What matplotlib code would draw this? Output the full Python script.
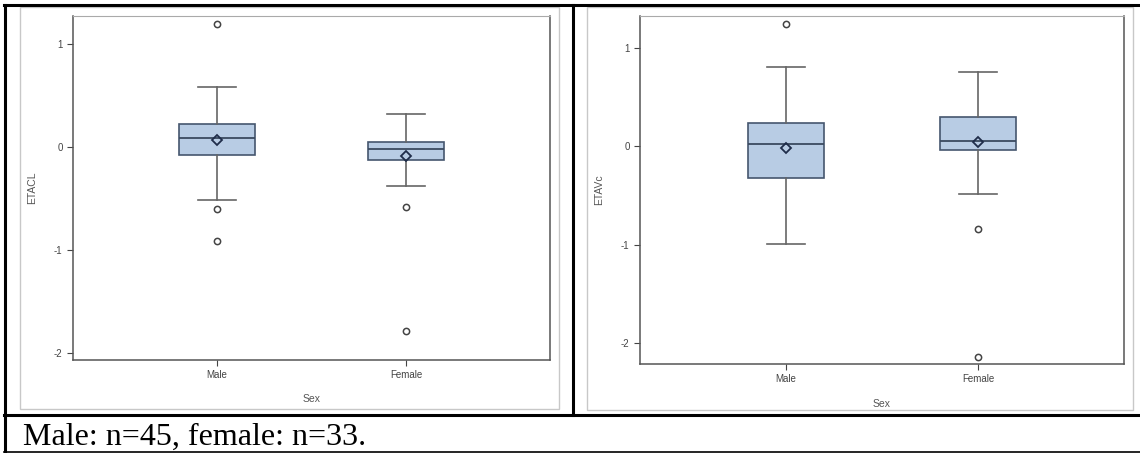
import matplotlib
matplotlib.use("Agg")
import matplotlib.pyplot as plt
from matplotlib.patches import Rectangle
from matplotlib.lines import Line2D

plt.rcParams["font.family"] = ["Liberation Sans", "DejaVu Sans"]
plt.rcParams["axes.unicode_minus"] = False

# values
groups = ["Male", "Female"]

# ETACL panel
cl_q1 = [-0.08, -0.13]
cl_med = [0.085, -0.017]
cl_q3 = [0.22, 0.05]
cl_lo = [-0.515, -0.385]
cl_hi = [0.585, 0.317]
cl_mean = [0.065, -0.087]
cl_out = [[1.19, -0.605, -0.915], [-0.58, -1.79]]

# ETAVc panel
vc_q1 = [-0.328, -0.04]
vc_med = [0.02, 0.05]
vc_q3 = [0.233, 0.291]
vc_lo = [-0.995, -0.487]
vc_hi = [0.805, 0.754]
vc_mean = [-0.023, 0.044]
vc_out = [[1.24], [-0.836, -2.14]]

caption = "Male: n=45, female: n=33."

W, H = 1140, 453
fig = plt.figure(figsize=(W / 100, H / 100), dpi=100)


def px_rect(x0, y0, x1, y1):
    # pixel box (top-left origin) -> figure fraction
    return [x0 / W, 1 - y1 / H, (x1 - x0) / W, (y1 - y0) / H]


def fig_line(x0, y0, x1, y1, lw):
    fig.add_artist(Line2D([x0 / W, x1 / W], [1 - y0 / H, 1 - y1 / H],
                          transform=fig.transFigure, color="black", lw=lw))


def panel(rect, frame, q1, med, q3, lo, hi, mean, out, ylabel, ylim):
    fig.add_artist(Rectangle((frame[0] / W, 1 - frame[3] / H),
                             (frame[2] - frame[0]) / W, (frame[3] - frame[1]) / H,
                             transform=fig.transFigure, fill=False,
                             ec="#c8c8c8", lw=1))
    ax = fig.add_axes(px_rect(*rect))
    stats = []
    for i, g in enumerate(groups):
        stats.append(dict(label=g, q1=q1[i], med=med[i], q3=q3[i],
                          whislo=lo[i], whishi=hi[i], mean=mean[i],
                          fliers=out[i]))
    ax.bxp(stats, positions=[1, 2], widths=0.4, patch_artist=True,
           showmeans=True,
           boxprops=dict(facecolor="#b8cce4", edgecolor="#45566e", lw=1.2),
           medianprops=dict(color="#3a4a60", lw=1.3),
           whiskerprops=dict(color="#666666", lw=1.2),
           capprops=dict(color="#666666", lw=1.2),
           meanprops=dict(marker="D", markersize=5, markerfacecolor="none",
                          markeredgecolor="#1f2d4a", markeredgewidth=1.3),
           flierprops=dict(marker="o", markersize=4.5, markerfacecolor="none",
                           markeredgecolor="#444444", markeredgewidth=1.1))
    ax.set_xlim(0.24, 2.76)
    ax.set_ylim(*ylim)
    ax.set_yticks([-2, -1, 0, 1])
    ax.set_xticks([1, 2])
    ax.set_xticklabels(groups)
    ax.tick_params(labelsize=7, colors="#444444", length=4, width=0.8)
    for s in ["left", "bottom", "right"]:
        ax.spines[s].set_color("#555555")
        ax.spines[s].set_linewidth(1.1)
    ax.spines["top"].set_color("#aaaaaa")
    ax.set_ylabel(ylabel, fontsize=7.5, color="#555555")
    ax.set_xlabel("Sex", fontsize=7.5, color="#555555")
    ax.yaxis.set_label_coords(-0.075, 0.5)
    ax.xaxis.set_label_coords(0.5, -0.10)
    return ax


panel((73, 16, 550, 360), (20, 7, 559, 409), cl_q1, cl_med, cl_q3, cl_lo,
      cl_hi, cl_mean, cl_out, "ETACL", (-2.07, 1.27))
panel((640, 16, 1124, 364), (587, 7, 1133, 410), vc_q1, vc_med, vc_q3, vc_lo,
      vc_hi, vc_mean, vc_out, "ETAVc", (-2.21, 1.32))

# table borders
fig_line(4, 5, 1140, 5, 2.2)
fig_line(5, 5, 5, 452, 2.2)
fig_line(573, 5, 573, 415, 2.2)
fig_line(4, 415, 1140, 415, 2.2)
fig_line(4, 452, 1140, 452, 1.2)

fig.text(23 / W, 1 - 445 / H, caption, fontsize=23,
         family=["Liberation Serif", "DejaVu Serif"], va="baseline", ha="left")

fig.savefig("out.png", dpi=100)
